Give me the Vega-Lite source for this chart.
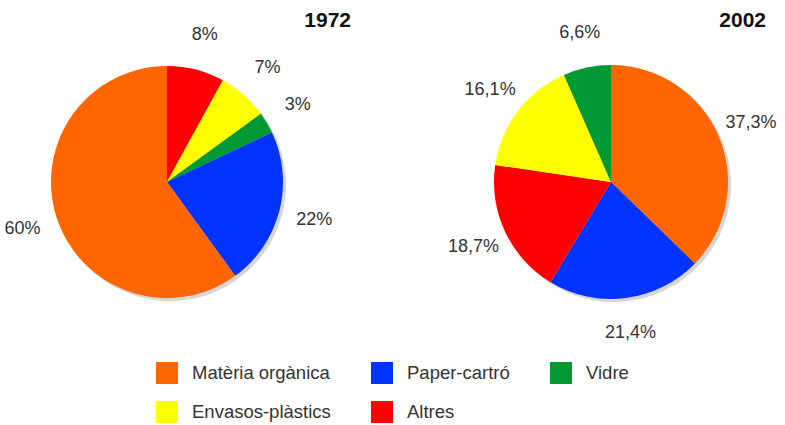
{
  "$schema": "https://vega.github.io/schema/vega-lite/v6.json",
  "padding": 0,
  "background": "white",
  "bounds": "flush",
  "spacing": 110,
  "datasets": {
    "d1972": [
      {"cat": "Altres", "value": 8, "ord": 1, "label": "8%"},
      {"cat": "Envasos-plàstics", "value": 7, "ord": 2, "label": "7%"},
      {"cat": "Vidre", "value": 3, "ord": 3, "label": "3%"},
      {"cat": "Paper-cartró", "value": 22, "ord": 4, "label": "22%"},
      {"cat": "Matèria orgànica", "value": 60, "ord": 5, "label": "60%"}
    ],
    "d2002": [
      {"cat": "Matèria orgànica", "value": 37.3, "ord": 1, "label": "37,3%"},
      {"cat": "Paper-cartró", "value": 21.4, "ord": 2, "label": "21,4%"},
      {"cat": "Altres", "value": 18.7, "ord": 3, "label": "18,7%"},
      {"cat": "Envasos-plàstics", "value": 16.1, "ord": 4, "label": "16,1%"},
      {"cat": "Vidre", "value": 6.6, "ord": 5, "label": "6,6%"}
    ]
  },
  "hconcat": [
    {
      "width": 334,
      "height": 364,
      "data": {"name": "d1972"},
      "title": {"text": "1972", "anchor": "end", "frame": "group", "orient": "top", "offset": -31, "dx": 17, "fontSize": 21, "fontWeight": "bold", "font": "Liberation Sans", "color": "#111111"},
      "encoding": {
        "theta": {"field": "value", "type": "quantitative", "stack": true},
        "order": {"field": "ord", "type": "quantitative"}
      },
      "layer": [
        {"mark": {"type": "arc", "outerRadius": 116, "xOffset": 3, "yOffset": 3, "color": "#999999", "opacity": 0.4}, "encoding": {"detail": {"field": "cat"}}},
        {"mark": {"type": "arc", "outerRadius": 116}, "encoding": {"color": {"field": "cat", "type": "nominal",
          "scale": {"domain": ["Matèria orgànica", "Paper-cartró", "Vidre", "Envasos-plàstics", "Altres"], "range": ["#ff6600", "#0033ff", "#009933", "#ffff00", "#ff0000"]},
          "legend": {"title": null, "orient": "none", "legendX": 156, "legendY": 362, "columns": 3, "direction": "horizontal", "symbolType": "square", "symbolSize": 484, "symbolStrokeWidth": 0, "labelFontSize": 18.5, "labelFont": "Liberation Sans", "labelColor": "#333333", "labelOffset": 14, "rowPadding": 17, "columnPadding": 40, "labelLimit": 300}}}},
        {"mark": {"type": "text", "radius": 152, "fontSize": 18, "font": "Liberation Sans", "color": "#333333", "align": "center", "baseline": "middle"}, "encoding": {"detail": {"field": "cat"}, "text": {"field": "label"}}}
      ]
    },
    {
      "width": 334,
      "height": 364,
      "data": {"name": "d2002"},
      "title": {"text": "2002", "anchor": "end", "frame": "group", "orient": "top", "offset": -31, "dx": -12, "fontSize": 21, "fontWeight": "bold", "font": "Liberation Sans", "color": "#111111"},
      "encoding": {
        "theta": {"field": "value", "type": "quantitative", "stack": true},
        "order": {"field": "ord", "type": "quantitative"}
      },
      "layer": [
        {"mark": {"type": "arc", "outerRadius": 117, "xOffset": 3, "yOffset": 3, "color": "#999999", "opacity": 0.4}, "encoding": {"detail": {"field": "cat"}}},
        {"mark": {"type": "arc", "outerRadius": 117}, "encoding": {"color": {"field": "cat", "type": "nominal"}}},
        {"mark": {"type": "text", "radius": 152, "fontSize": 18, "font": "Liberation Sans", "color": "#333333", "align": "center", "baseline": "middle"}, "encoding": {"detail": {"field": "cat"}, "text": {"field": "label"}}}
      ]
    }
  ],
  "resolve": {"scale": {"theta": "independent", "color": "shared"}},
  "config": {"font": "Liberation Sans", "view": {"stroke": null}}
}
